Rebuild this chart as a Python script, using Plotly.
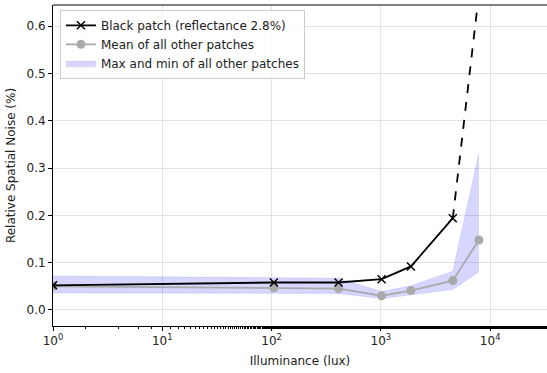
import numpy as np
import plotly.graph_objects as go

# Data
black_x = [1, 105, 410, 1015, 1884, 4550]
black_y = [0.052, 0.058, 0.058, 0.065, 0.092, 0.194]
black_dash_x = [4550, 7900]
black_dash_y = [0.194, 0.67]

mean_x = [1, 105, 410, 1015, 1884, 4550, 7900]
mean_y = [0.050, 0.047, 0.045, 0.030, 0.041, 0.062, 0.148]
band_max = [0.072, 0.069, 0.067, 0.039, 0.051, 0.082, 0.332]
band_min = [0.036, 0.036, 0.035, 0.024, 0.032, 0.043, 0.081]

x_tickvals = [1, 10, 100, 1000, 10000]
x_ticktext = ["10<sup>0</sup>", "10<sup>1</sup>", "10<sup>2</sup>", "10<sup>3</sup>", "10<sup>4</sup>"]
y_tickvals = [0.0, 0.1, 0.2, 0.3, 0.4, 0.5, 0.6]

FONT = "DejaVu Sans"
FS = 12
fig = go.Figure()

fig.add_trace(go.Scatter(x=mean_x, y=band_min, mode="lines",
                         line=dict(color="rgba(0,0,255,0.12)", width=0.8),
                         showlegend=False, hoverinfo="skip"))
fig.add_trace(go.Scatter(x=mean_x, y=band_max, mode="lines", fill="tonexty",
                         fillcolor="rgba(0,0,255,0.16)",
                         line=dict(color="rgba(0,0,255,0.12)", width=0.8),
                         name="Max and min of all other patches"))
fig.add_trace(go.Scatter(x=mean_x, y=mean_y, mode="lines+markers",
                         line=dict(color="#aaaaaa", width=1.8),
                         marker=dict(symbol="circle", size=9, color="#aaaaaa"),
                         name="Mean of all other patches"))
fig.add_trace(go.Scatter(x=black_dash_x, y=black_dash_y, mode="lines",
                         line=dict(color="black", width=1.8, dash="dash"),
                         showlegend=False))
fig.add_trace(go.Scatter(x=black_x, y=black_y, mode="lines+markers",
                         line=dict(color="black", width=1.8),
                         marker=dict(symbol="x-thin", size=8,
                                     line=dict(color="black", width=1.5)),
                         name="Black patch (reflectance 2.8%)"))

fig.update_layout(
    width=547, height=373,
    margin=dict(l=53, r=0, t=5, b=47),
    paper_bgcolor="white", plot_bgcolor="white",
    font=dict(family=FONT, size=FS, color="#222222"),
    legend=dict(x=0.014, y=0.985, xanchor="left", yanchor="top",
                bgcolor="rgba(255,255,255,0.8)", bordercolor="#cccccc",
                borderwidth=1, traceorder="reversed",
                font=dict(family=FONT, size=FS, color="#222222"),
                tracegroupgap=0, itemwidth=30),
    xaxis=dict(type="log", range=[0, 4.52],
               tickvals=x_tickvals, ticktext=x_ticktext,
               ticks="outside", ticklen=4, tickcolor="black",
               showline=True, linecolor="black", linewidth=1, mirror=False,
               showgrid=True, gridcolor="#e3e3e3", gridwidth=1,
               zeroline=False,
               minor=dict(ticks="outside", ticklen=2, tickcolor="black", showgrid=False),
               title=dict(text="Illuminance (lux)", font=dict(size=FS), standoff=9)),
    yaxis=dict(range=[-0.034, 0.645], tickvals=y_tickvals, tickformat=".1f",
               ticks="outside", ticklen=4, tickcolor="black",
               showline=True, linecolor="black", linewidth=1, mirror=False,
               showgrid=True, gridcolor="#e3e3e3", gridwidth=1,
               zeroline=False,
               title=dict(text="Relative Spatial Noise (%)", font=dict(size=FS), standoff=8)),
    shapes=[dict(type="line", xref="paper", yref="paper", x0=0, x1=1, y0=1, y1=1,
                 line=dict(color="black", width=1))],
)

fig.write_html("out.html")
